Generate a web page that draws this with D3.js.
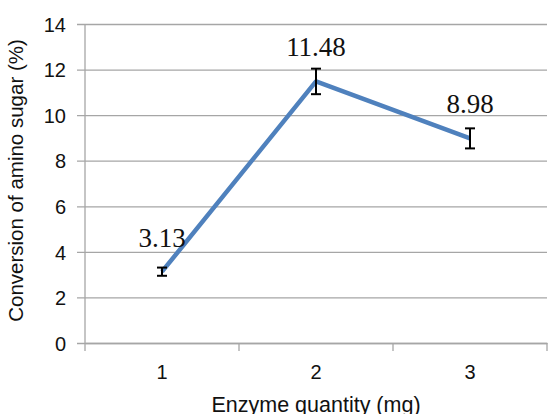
<!DOCTYPE html>
<html>
<head>
<meta charset="utf-8">
<script src="https://cdn.jsdelivr.net/npm/d3@7"></script>
<style>
  html, body { margin: 0; padding: 0; background: #fff; }
  svg { display: block; }
</style>
</head>
<body>
<svg id="chart" width="548" height="414"></svg>
<script>
// Enzyme dosage vs. conversion of amino sugar
const quantities = ["1", "2", "3"];
const conversion = [3.13, 11.48, 8.98];
const errors = [0.18, 0.56, 0.44];
const yTicks = [0, 2, 4, 6, 8, 10, 12, 14];

const svg = d3.select("#chart");
const margin = { left: 85, right: 1, top: 24, bottom: 71 };
const W = 548, H = 414;

const x = d3.scaleBand().domain(quantities)
  .range([margin.left, W - margin.right]).padding(0);
const y = d3.scaleLinear().domain([0, 14])
  .range([H - margin.bottom, margin.top]);

const grid = "#a6a6a6";
const sans = "'Liberation Sans', Arial, Helvetica, sans-serif";

// horizontal gridlines with the y axis labels
const yAxis = d3.axisLeft(y).tickValues(yTicks)
  .tickSize(-(W - margin.right - margin.left)).tickSizeOuter(0);
const gy = svg.append("g").attr("transform", `translate(${margin.left},0)`).call(yAxis);
gy.select(".domain").remove();
gy.selectAll(".tick line").attr("stroke", grid).attr("stroke-width", 1.3)
  .attr("x1", -8);
gy.selectAll(".tick text").attr("font-family", sans).attr("font-size", 20)
  .attr("fill", "#111").attr("x", -19).attr("dy", "0.36em");

// vertical axis line
svg.append("line")
  .attr("x1", margin.left).attr("x2", margin.left)
  .attr("y1", y(14)).attr("y2", y(0) + 8)
  .attr("stroke", grid).attr("stroke-width", 1.3);

// category axis
const xAxis = d3.axisBottom(x).tickSize(0).tickPadding(22);
const gx = svg.append("g").attr("transform", `translate(0,${y(0)})`).call(xAxis);
gx.select(".domain").attr("stroke", grid).attr("stroke-width", 1.6);
gx.selectAll(".tick text").attr("font-family", sans).attr("font-size", 20).attr("fill", "#111");

// tick marks at band boundaries
const bounds = quantities.map(q => x(q)).concat([x(quantities[quantities.length - 1]) + x.bandwidth()]);
svg.append("g").selectAll("line").data(bounds.slice(1)).join("line")
  .attr("x1", d => d).attr("x2", d => d)
  .attr("y1", y(0)).attr("y2", y(0) + 8)
  .attr("stroke", grid).attr("stroke-width", 1.3);

const cx = q => x(q) + x.bandwidth() / 2;

// data line
const pts = quantities.map((q, i) => [cx(q), y(conversion[i])]);
svg.append("path")
  .attr("d", d3.line()(pts))
  .attr("fill", "none").attr("stroke", "#4f81bd")
  .attr("stroke-width", 4.5).attr("stroke-linejoin", "round");

// error bars
const eb = svg.append("g").attr("stroke", "#000").attr("stroke-width", 2);
quantities.forEach((q, i) => {
  const xc = cx(q), hi = y(conversion[i] + errors[i]), lo = y(conversion[i] - errors[i]);
  eb.append("line").attr("x1", xc).attr("x2", xc).attr("y1", hi).attr("y2", lo);
  eb.append("line").attr("x1", xc - 5).attr("x2", xc + 5).attr("y1", hi).attr("y2", hi);
  eb.append("line").attr("x1", xc - 5).attr("x2", xc + 5).attr("y1", lo).attr("y2", lo);
});

// value labels
svg.append("g").selectAll("text").data(quantities).join("text")
  .attr("x", q => cx(q))
  .attr("y", (q, i) => y(conversion[i]) - 25)
  .attr("text-anchor", "middle")
  .attr("font-family", "'Liberation Serif', 'Times New Roman', serif")
  .attr("font-size", 27).attr("fill", "#111")
  .text((q, i) => conversion[i].toFixed(2));

// axis titles
svg.append("text")
  .attr("x", (margin.left + W - margin.right) / 2).attr("y", 412)
  .attr("text-anchor", "middle").attr("font-family", sans).attr("font-size", 21.5)
  .attr("fill", "#111").text("Enzyme quantity (mg)");

svg.append("text")
  .attr("transform", `translate(23,${(y(0) + y(14)) / 2 - 3}) rotate(-90)`)
  .attr("text-anchor", "middle").attr("font-family", sans).attr("font-size", 20.5)
  .attr("fill", "#111").text("Conversion of amino sugar (%)");
</script>
</body>
</html>
